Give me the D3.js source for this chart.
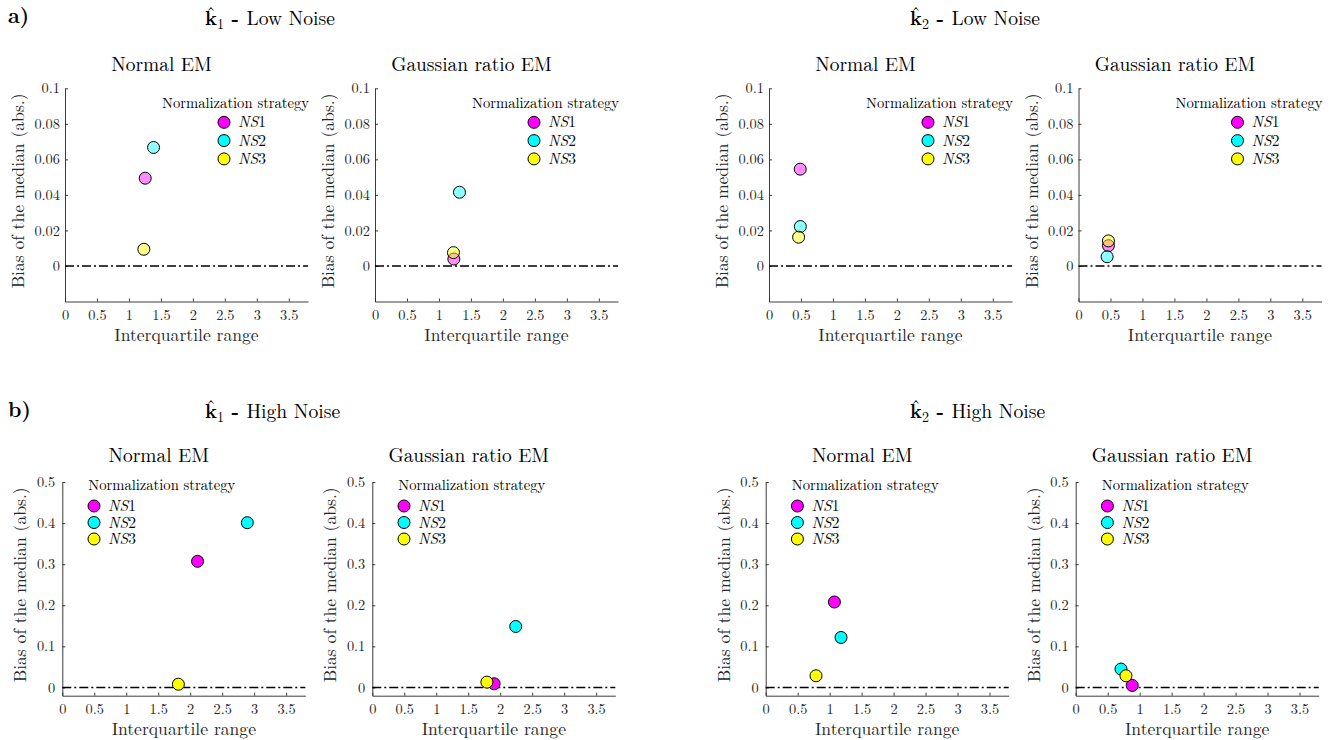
<!DOCTYPE html>
<html>
<head>
<meta charset="utf-8">
<script src="https://cdn.jsdelivr.net/npm/d3@7"></script>
<style>
  body { margin: 0; background: #fff; }
</style>
</head>
<body>
<svg id="chart" width="1344" height="740"></svg>
<script>
//
// Data
//

var strategies = ['NS1', 'NS2', 'NS3']
var strategyColors = ['#ff00ff', '#00ffff', '#ffff00']
var xTicks = [0, 0.5, 1, 1.5, 2, 2.5, 3, 3.5]
var yTicksLow = [0, 0.02, 0.04, 0.06, 0.08, 0.1]
var yTicksHigh = [0, 0.1, 0.2, 0.3, 0.4, 0.5]

// interquartile range / bias of the median, one entry per strategy
var lowK1NormalIQR = [1.254, 1.385, 1.233]
var lowK1NormalBias = [0.0494, 0.0667, 0.0094]
var lowK1GaussIQR = [1.233, 1.321, 1.227]
var lowK1GaussBias = [0.0039, 0.0415, 0.0075]
var lowK2NormalIQR = [0.488, 0.490, 0.463]
var lowK2NormalBias = [0.0545, 0.0222, 0.0162]
var lowK2GaussIQR = [0.468, 0.448, 0.468]
var lowK2GaussBias = [0.0114, 0.0052, 0.0141]

var highK1NormalIQR = [2.115, 2.893, 1.815]
var highK1NormalBias = [0.307, 0.401, 0.008]
var highK1GaussIQR = [1.905, 2.243, 1.792]
var highK1GaussBias = [0.009, 0.1485, 0.013]
var highK2NormalIQR = [1.074, 1.178, 0.787]
var highK2NormalBias = [0.208, 0.1217, 0.0285]
var highK2GaussIQR = [0.884, 0.708, 0.786]
var highK2GaussBias = [0.005, 0.0448, 0.0285]

//
// Layout
//

var font = '"Latin Modern Roman", "CMU Serif", "Liberation Serif", serif'
var axisWidth = 243
var rows = {
  low: { top: 88.3, bottom: 301.5, domain: [-0.02, 0.1], ticks: yTicksLow, faded: true,
         legendSpacing: 18.3, titleDy: -17, ylabelDx: -41, xtickPad: 8.5, ytickPad: 5 },
  high: { top: 482, bottom: 695.7, domain: [-0.02, 0.5], ticks: yTicksHigh, faded: false,
          legendSpacing: 16.5, titleDy: -20.5, ylabelDx: -36, xtickPad: 8, ytickPad: 7 }
}

var panels = [
  { row: 'low', left: 65, title: 'Normal EM', iqr: lowK1NormalIQR, bias: lowK1NormalBias },
  { row: 'low', left: 375, title: 'Gaussian ratio EM', iqr: lowK1GaussIQR, bias: lowK1GaussBias },
  { row: 'low', left: 769, title: 'Normal EM', iqr: lowK2NormalIQR, bias: lowK2NormalBias },
  { row: 'low', left: 1078.5, title: 'Gaussian ratio EM', iqr: lowK2GaussIQR, bias: lowK2GaussBias },
  { row: 'high', left: 62.3, title: 'Normal EM', iqr: highK1NormalIQR, bias: highK1NormalBias },
  { row: 'high', left: 372.3, title: 'Gaussian ratio EM', iqr: highK1GaussIQR, bias: highK1GaussBias },
  { row: 'high', left: 765.7, title: 'Normal EM', iqr: highK2NormalIQR, bias: highK2NormalBias },
  { row: 'high', left: 1075.7, title: 'Gaussian ratio EM', iqr: highK2GaussIQR, bias: highK2GaussBias }
]

var headings = [
  { x: 205, y: 25, k: '1', noise: 'Low Noise' },
  { x: 910, y: 25, k: '2', noise: 'Low Noise' },
  { x: 205, y: 418, k: '1', noise: 'High Noise' },
  { x: 910, y: 418, k: '2', noise: 'High Noise' }
]

var svg = d3.select('#chart').style('font-family', font)
var axisColor = '#262626'

function label(sel) {
  return sel.append('text').style('font-family', font).attr('fill', '#000')
}

//
// Panel letters and headings
//

label(svg).attr('x', 8).attr('y', 23).attr('font-size', 21).attr('font-weight', 'bold').text('a)')
label(svg).attr('x', 8).attr('y', 416.5).attr('font-size', 21).attr('font-weight', 'bold').text('b)')

headings.forEach(function(h) {
  var t = label(svg).attr('x', h.x).attr('y', h.y).attr('font-size', 19.6)
  t.append('tspan').attr('font-weight', 'bold').text('k')
  // hat pulled back over the k
  t.append('tspan').attr('dx', -10.8).attr('dy', -4.5).text('\u02C6')
  t.append('tspan').attr('font-size', 14).attr('dx', 1).attr('dy', 8).text(h.k)
  t.append('tspan').attr('dy', -3.5).attr('font-weight', 'bold').text(' - ')
  t.append('tspan').text(h.noise)
})

//
// Panels
//

function drawPanel(p) {
  var r = rows[p.row]
  var x = d3.scaleLinear().domain([0, 3.8]).range([p.left, p.left + axisWidth])
  var y = d3.scaleLinear().domain(r.domain).range([r.bottom, r.top])
  var g = svg.append('g')

  var xAxis = g.append('g')
    .attr('transform', 'translate(0,' + r.bottom + ')')
    .call(d3.axisBottom(x).tickValues(xTicks).tickSize(-3).tickSizeOuter(0).tickPadding(r.xtickPad).tickFormat(String))
  var yAxis = g.append('g')
    .attr('transform', 'translate(' + p.left + ',0)')
    .call(d3.axisLeft(y).tickValues(r.ticks).tickSize(-3).tickSizeOuter(0).tickPadding(r.ytickPad).tickFormat(String))

  ;[xAxis, yAxis].forEach(function(a) {
    a.attr('font-family', null).style('font-family', font)
    a.select('.domain').attr('stroke', axisColor).attr('stroke-width', 0.9)
    a.selectAll('.tick line').attr('stroke', axisColor).attr('stroke-width', 0.9)
    a.selectAll('.tick text').attr('fill', axisColor).attr('font-size', 14.4)
      .style('font-family', font)
  })

  // zero-bias reference line
  g.append('line')
    .attr('x1', x(0)).attr('x2', x(3.8))
    .attr('y1', y(0)).attr('y2', y(0))
    .attr('stroke', '#000').attr('stroke-width', 1.5)
    .attr('stroke-dasharray', '9,3,2,3')

  label(g)
    .attr('x', (x(0) + x(3.8)) / 2 - 25).attr('y', r.top + r.titleDy)
    .attr('text-anchor', 'middle').attr('font-size', 19.4)
    .text(p.title)

  label(g)
    .attr('x', (x(0) + x(3.8)) / 2).attr('y', r.bottom + 39.3)
    .attr('text-anchor', 'middle').attr('font-size', 17.6).attr('fill', axisColor)
    .text('Interquartile range')

  var midY = (r.top + r.bottom) / 2 - 4
  label(g)
    .attr('transform', 'translate(' + (p.left + r.ylabelDx) + ',' + midY + ') rotate(-90)')
    .attr('text-anchor', 'middle').attr('font-size', 17.6).attr('fill', axisColor)
    .text('Bias of the median (abs.)')

  // points
  g.selectAll('circle.pt')
    .data(strategies)
    .join('circle')
    .attr('class', 'pt')
    .attr('cx', function(d, i) { return x(p.iqr[i]) })
    .attr('cy', function(d, i) { return y(p.bias[i]) })
    .attr('r', 6)
    .attr('fill', function(d, i) { return strategyColors[i] })
    .attr('fill-opacity', r.faded ? 0.45 : 1)
    .attr('stroke', '#000')
    .attr('stroke-width', 1)

  // legend
  var legTitleX, legTitleAnchor, markerX, titleY, firstY
  if (p.row === 'low') {
    legTitleX = x(3.8) + 1
    legTitleAnchor = 'end'
    markerX = x(3.8) - 84
    titleY = r.top + 20
    firstY = r.top + 34
  } else {
    legTitleX = p.left + 26
    legTitleAnchor = 'start'
    markerX = p.left + 31.7
    titleY = r.top + 7.5
    firstY = r.top + 24
  }
  var leg = g.append('g')
  label(leg)
    .attr('x', legTitleX).attr('y', titleY)
    .attr('text-anchor', legTitleAnchor).attr('font-size', 14.6)
    .text('Normalization strategy')
  strategies.forEach(function(s, i) {
    var cy = firstY + i * r.legendSpacing
    leg.append('circle')
      .attr('cx', markerX).attr('cy', cy).attr('r', 6)
      .attr('fill', strategyColors[i]).attr('stroke', '#000').attr('stroke-width', 1)
    var t = label(leg).attr('x', markerX + 14).attr('y', cy + 5).attr('font-size', 15.5)
    t.append('tspan').attr('font-style', 'italic').text(s.slice(0, 2))
    t.append('tspan').text(s.slice(2))
  })
}

panels.forEach(drawPanel)
</script>
</body>
</html>
